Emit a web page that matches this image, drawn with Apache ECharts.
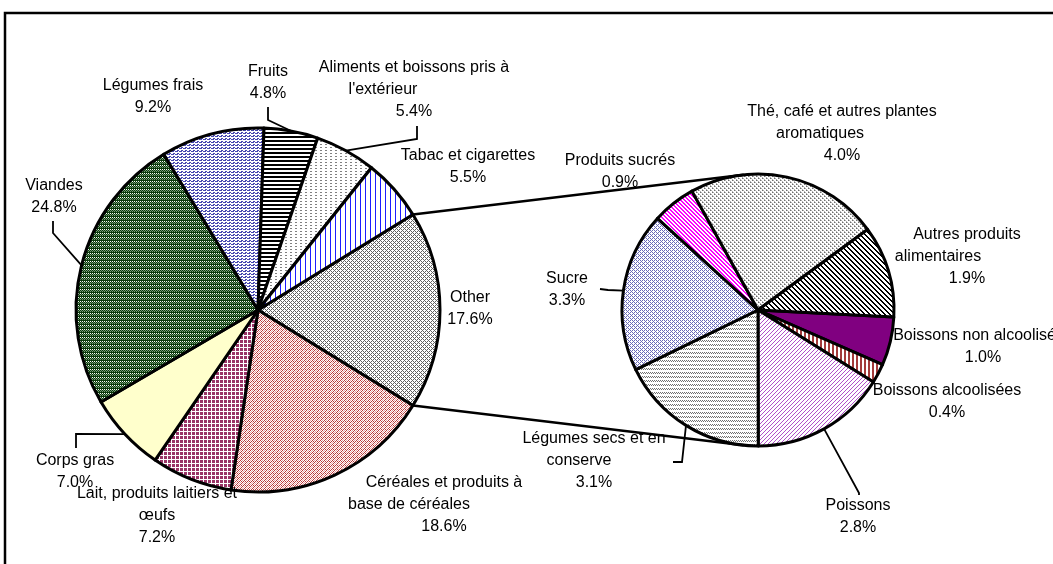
<!DOCTYPE html>
<html>
<head>
<meta charset="utf-8">
<script src="https://cdn.jsdelivr.net/npm/echarts@6/dist/echarts.min.js"></script>
<style>
    html, body { margin: 0; padding: 0; background: #fff; }
    #chart { width: 1053px; height: 564px; }
</style>
</head>
<body>
<div id="chart"></div>
<script>
    // main pie, clockwise from the "Other" slice (which is split out on the right)
    var mainNames = ['Other', 'Céréales et produits à base de céréales', 'Lait, produits laitiers et œufs',
        'Corps gras', 'Viandes', 'Légumes frais', 'Fruits', "Aliments et boissons pris à l'extérieur",
        'Tabac et cigarettes'];
    var mainValues = [17.6, 18.6, 7.2, 7.0, 24.8, 9.2, 4.8, 5.4, 5.5];

    // second pie = breakdown of "Other"
    var otherNames = ['Boissons non alcoolisées', 'Boissons alcoolisées', 'Poissons', 'Légumes secs et en conserve',
        'Sucre', 'Produits sucrés', 'Thé, café et autres plantes aromatiques', 'Autres produits alimentaires'];
    var otherValues = [1.0, 0.4, 2.8, 3.1, 3.3, 0.9, 4.0, 1.9];

    // how the long names wrap in the labels
    var wrapped = {
        'Céréales et produits à base de céréales': ['Céréales et produits à', 'base de céréales'],
        'Lait, produits laitiers et œufs': ['Lait, produits laitiers et', 'œufs'],
        "Aliments et boissons pris à l'extérieur": ['Aliments et boissons pris à', "l'extérieur"],
        'Légumes secs et en conserve': ['Légumes secs et en', 'conserve'],
        'Thé, café et autres plantes aromatiques': ['Thé, café et autres plantes', 'aromatiques'],
        'Autres produits alimentaires': ['Autres produits', 'alimentaires']
    };

    var MAIN_C = [258, 310], MAIN_R = 182;
    var SUB_C = [758, 310], SUB_R = 136;

    // label placement (centre of label block), optional leader elbow/end and 2nd line shift
    var mainLabelPos = [
        {x: 470, y: 309},
        {x: 444, y: 505, shift: 35},
        {x: 157, y: 516},
        {x: 75, y: 472, line: [[76, 434], [76, 448]]},
        {x: 54, y: 197, line: [[53, 233], [53, 221]]},
        {x: 153, y: 97},
        {x: 268, y: 83, line: [[268, 120], [268, 107]]},
        {x: 414, y: 90, shift: 31, line: [[417, 139], [417, 126]]},
        {x: 468, y: 167}
    ];
    var subLabelPos = [
        {x: 983, y: 347},
        {x: 947, y: 402},
        {x: 858, y: 517, line: [[859, 493], [859, 495]]},
        {x: 594, y: 461, shift: 15, line: [[682, 462], [673, 462]]},
        {x: 567, y: 290, line: [[608, 290], [600, 289]]},
        {x: 620, y: 172},
        {x: 842, y: 134, shift: 22},
        {x: 967, y: 257, shift: 29}
    ];

    // pixel tiles for the hatch fills
    function tile(rows, colors, bg) {
        var c = document.createElement('canvas');
        c.width = rows[0].length;
        c.height = rows.length;
        var ctx = c.getContext('2d');
        ctx.fillStyle = bg || '#fff';
        ctx.fillRect(0, 0, c.width, c.height);
        rows.forEach(function (r, y) {
            for (var x = 0; x < r.length; x++) {
                if (colors[r[x]]) {
                    ctx.fillStyle = colors[r[x]];
                    ctx.fillRect(x, y, 1, 1);
                }
            }
        });
        return {image: c, repeat: 'repeat'};
    }

    var mainFills = [
        tile(['X...', '.X.X', '..X.', '.X.X'], {X: '#606060'}),
        tile(['X.o.', '.X.X', 'o.X.', '.X.o'], {X: '#b83a3a', o: '#e8a0a0'}),
        tile(['XXX.', 'XXX.', 'XXX.', '....'], {X: '#993366'}),
        '#ffffcc',
        tile(['XXXX', '.X.X', 'XgXg', 'gXgX'], {X: '#0a3a0a', g: '#7a9a7a'}),
        tile(['.XX.', 'XX.X', '....'], {X: '#4848b0'}),
        tile(['X', 'X', '.', '.'], {X: '#000'}),
        tile(['XX...', '.....', '.....'], {X: '#808080'}),
        tile(['X....'], {X: '#1c1cff'})
    ];
    var subFills = [
        '#800080',
        tile(['XX..'], {X: '#a33a3a'}),
        tile(['...X', '..X.', '.X..', 'X...'], {X: '#b050c8'}),
        tile(['X.X.', '.X.X', '....', '....'], {X: '#707070'}),
        tile(['X.X.', '.X..', 'X.X.', '...X'], {X: '#6a6ab8'}),
        tile(['XX..', '.XX.', '..XX', 'X..X'], {X: '#ff00ff'}),
        tile(['Xo..', '..o.', '..Xo', 'o...'], {X: '#6e6e6e', o: '#b0b0b0'}),
        tile(['XX...', '.XX..', '..XX.', '...XX', 'X...X'], {X: '#000'})
    ];

    function buildData(names, values, fills, pos) {
        return names.map(function (n, i) {
            return {
                name: n,
                value: values[i],
                itemStyle: {color: fills[i]},
                labelLine: {show: !!pos[i].line}
            };
        });
    }

    function labelText(p, pos) {
        var lines = wrapped[p.name] || [p.name];
        var shift = pos[p.dataIndex].shift;
        var out = lines.map(function (t, i) {
            return (i === 1 && shift) ? '{s' + shift + '|' + t + '}' : '{t|' + t + '}';
        });
        out.push('{t|' + p.value.toFixed(1) + '%}');
        return out.join('\n');
    }

    var font = {fontFamily: '"Liberation Sans", Arial, sans-serif', fontSize: 16, color: '#000', lineHeight: 22};
    var rich = {t: font};
    mainLabelPos.concat(subLabelPos).forEach(function (l) {
        if (l.shift) {
            rich['s' + l.shift] = Object.assign({padding: [0, 2 * l.shift, 0, 0]}, font);
        }
    });

    function layoutFor(pos) {
        return function (params) {
            var l = pos[params.dataIndex];
            var res = {x: l.x, y: l.y, align: 'center', verticalAlign: 'middle'};
            if (l.line) {
                var p0 = params.labelLinePoints ? params.labelLinePoints[0] : l.line[0];
                res.labelLinePoints = [p0, l.line[0], l.line[1]];
            }
            return res;
        };
    }

    function pieSeries(names, values, fills, pos, center, r, startAngle) {
        return {
            type: 'pie',
            center: center,
            radius: r,
            startAngle: startAngle,
            clockwise: true,
            avoidLabelOverlap: false,
            silent: true,
            data: buildData(names, values, fills, pos),
            itemStyle: {borderColor: '#000', borderWidth: 3},
            label: {
                show: true,
                width: 260,
                formatter: function (p) { return labelText(p, pos); },
                rich: rich
            },
            labelLine: {show: true, lineStyle: {color: '#000', width: 1.8}},
            labelLayout: layoutFor(pos),
            emphasis: {disabled: true}
        };
    }

    var mainTotal = mainValues.reduce(function (a, b) { return a + b; }, 0);
    var otherHalf = mainValues[0] / mainTotal * 180;

    // connector lines between the split slice and the second pie
    function onCircle(c, r, deg) {
        var a = deg * Math.PI / 180;
        return [c[0] + r * Math.cos(a), c[1] - r * Math.sin(a)];
    }
    var a1 = onCircle(MAIN_C, MAIN_R, otherHalf), b1 = onCircle(SUB_C, SUB_R, 96);
    var a2 = onCircle(MAIN_C, MAIN_R, -otherHalf), b2 = onCircle(SUB_C, SUB_R, -96);

    var chart = echarts.init(document.getElementById('chart'));
    chart.setOption({
        animation: false,
        backgroundColor: '#fff',
        graphic: [
            {type: 'rect', shape: {x: 5, y: 13, width: 1100, height: 600}, style: {fill: 'none', stroke: '#000', lineWidth: 2.5}, z: 1},
            {type: 'line', shape: {x1: a1[0], y1: a1[1], x2: b1[0], y2: b1[1]}, style: {stroke: '#000', lineWidth: 2.5}, z: 100},
            {type: 'line', shape: {x1: a2[0], y1: a2[1], x2: b2[0], y2: b2[1]}, style: {stroke: '#000', lineWidth: 2.5}, z: 100}
        ],
        series: [
            pieSeries(mainNames, mainValues, mainFills, mainLabelPos, MAIN_C, MAIN_R, otherHalf),
            pieSeries(otherNames, otherValues, subFills, subLabelPos, SUB_C, SUB_R, 357)
        ]
    });
</script>
</body>
</html>
